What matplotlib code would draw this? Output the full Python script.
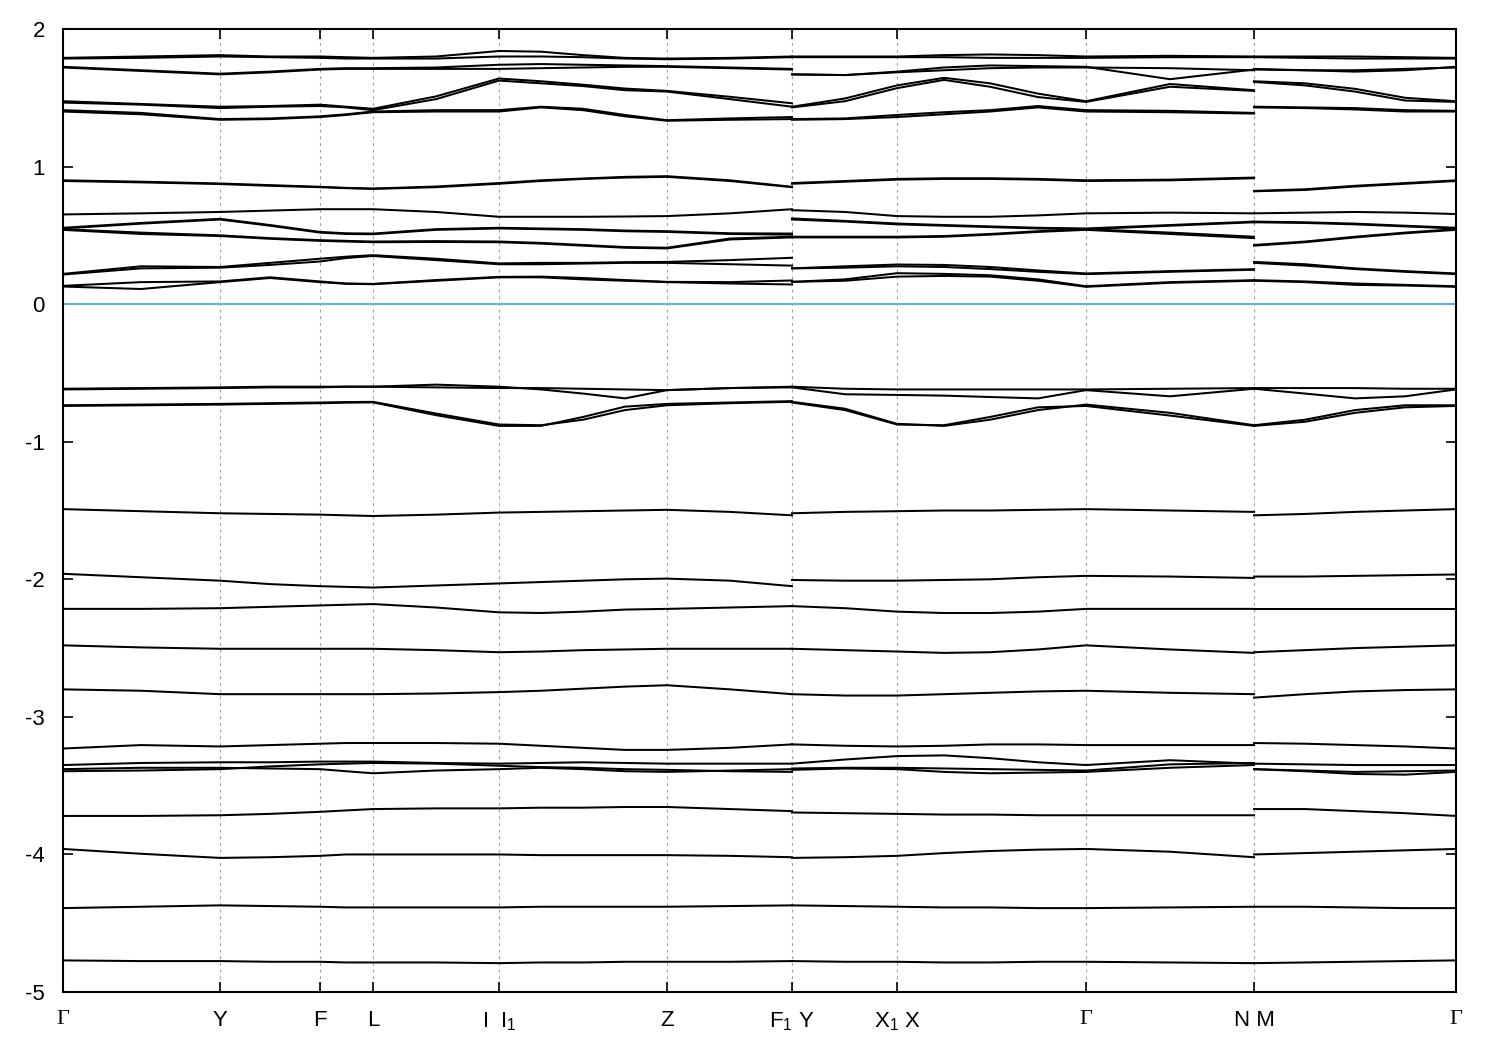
"""
能帶圖（band structure）重繪：三段 k 路徑 Γ-Y-F-L-I|I1-Z-F1 / Y-X1|X-Γ-N / M-Γ
數值是從原圖讀出來的近似值（每條帶在取樣點上的能量，單位 eV）。
"""
import matplotlib
matplotlib.use("Agg")
import matplotlib.pyplot as plt

plt.rcParams["axes.unicode_minus"] = False
plt.rcParams["font.family"] = ["Liberation Sans", "DejaVu Sans"]
plt.rcParams["mathtext.fontset"] = "custom"
plt.rcParams["mathtext.rm"] = "Liberation Sans"
plt.rcParams["mathtext.it"] = "Liberation Sans"

# k 路徑上的高對稱點（路徑長度，任意單位）
KLABELS = ["Γ", "Y", "F", "L", "I  I$_1$", "Z", "F$_1$ Y", "X$_1$ X", "Γ", "N M", "Γ"]
KTICKS = [0.0, 0.157, 0.257, 0.310, 0.436, 0.604, 0.729, 0.834, 1.023, 1.191, 1.393]

# 三段路徑的取樣點
K_SEG1 = [0.0, 0.078, 0.157, 0.207, 0.257, 0.283, 0.310, 0.373, 0.436,
          0.478, 0.520, 0.562, 0.604, 0.667, 0.729]
K_SEG2 = [0.729, 0.782, 0.834, 0.881, 0.927, 0.975, 1.023, 1.107, 1.191]
K_SEG3 = [1.191, 1.242, 1.292, 1.342, 1.393]

# 每一列是一條帶；三個表的列順序相同
E_SEG1 = [
    [1.79, 1.80, 1.81, 1.80, 1.80, 1.795, 1.79, 1.80, 1.84, 1.835, 1.81, 1.79, 1.785, 1.79, 1.80],
    [1.785, 1.79, 1.80, 1.795, 1.79, 1.785, 1.785, 1.785, 1.80, 1.80, 1.795, 1.785, 1.78, 1.785, 1.795],
    [1.725, 1.70, 1.675, 1.69, 1.71, 1.715, 1.715, 1.72, 1.74, 1.745, 1.74, 1.735, 1.73, 1.72, 1.71],
    [1.72, 1.695, 1.67, 1.685, 1.705, 1.71, 1.71, 1.71, 1.71, 1.715, 1.72, 1.725, 1.725, 1.715, 1.705],
    [1.475, 1.455, 1.435, 1.44, 1.45, 1.435, 1.42, 1.51, 1.64, 1.62, 1.595, 1.567, 1.55, 1.507, 1.46],
    [1.465, 1.45, 1.425, 1.435, 1.44, 1.43, 1.41, 1.49, 1.625, 1.605, 1.585, 1.555, 1.545, 1.49, 1.435],
    [1.41, 1.39, 1.345, 1.35, 1.365, 1.38, 1.40, 1.41, 1.41, 1.435, 1.42, 1.375, 1.337, 1.35, 1.36],
    [1.40, 1.38, 1.34, 1.345, 1.36, 1.375, 1.395, 1.40, 1.40, 1.43, 1.41, 1.365, 1.333, 1.34, 1.345],
    [0.90, 0.89, 0.877, 0.865, 0.853, 0.845, 0.84, 0.855, 0.88, 0.90, 0.913, 0.925, 0.93, 0.90, 0.853],
    [0.895, 0.885, 0.873, 0.86, 0.85, 0.843, 0.838, 0.85, 0.875, 0.895, 0.91, 0.92, 0.925, 0.895, 0.85],
    [0.652, 0.66, 0.67, 0.68, 0.69, 0.69, 0.69, 0.67, 0.635, 0.635, 0.635, 0.637, 0.64, 0.66, 0.69],
    [0.555, 0.59, 0.62, 0.575, 0.525, 0.515, 0.513, 0.545, 0.555, 0.55, 0.545, 0.535, 0.53, 0.515, 0.513],
    [0.55, 0.585, 0.615, 0.57, 0.52, 0.51, 0.508, 0.54, 0.55, 0.545, 0.54, 0.53, 0.525, 0.51, 0.505],
    [0.545, 0.52, 0.50, 0.48, 0.465, 0.46, 0.455, 0.458, 0.455, 0.445, 0.43, 0.415, 0.41, 0.477, 0.49],
    [0.54, 0.51, 0.495, 0.475, 0.46, 0.455, 0.45, 0.452, 0.45, 0.44, 0.425, 0.41, 0.405, 0.47, 0.485],
    [0.22, 0.275, 0.27, 0.30, 0.33, 0.345, 0.356, 0.33, 0.296, 0.30, 0.30, 0.305, 0.307, 0.32, 0.337],
    [0.215, 0.26, 0.265, 0.285, 0.31, 0.335, 0.35, 0.32, 0.29, 0.29, 0.295, 0.30, 0.30, 0.29, 0.28],
    [0.133, 0.16, 0.165, 0.195, 0.165, 0.15, 0.147, 0.175, 0.198, 0.20, 0.19, 0.175, 0.162, 0.16, 0.172],
    [0.128, 0.11, 0.16, 0.19, 0.16, 0.148, 0.145, 0.17, 0.195, 0.195, 0.18, 0.17, 0.16, 0.15, 0.143],
    [-0.615, -0.61, -0.605, -0.60, -0.60, -0.60, -0.60, -0.605, -0.61, -0.61, -0.615, -0.62, -0.625, -0.61, -0.60],
    [-0.62, -0.615, -0.61, -0.605, -0.605, -0.60, -0.60, -0.585, -0.60, -0.62, -0.65, -0.685, -0.625, -0.61, -0.605],
    [-0.735, -0.73, -0.725, -0.72, -0.715, -0.712, -0.71, -0.795, -0.875, -0.88, -0.84, -0.77, -0.735, -0.72, -0.71],
    [-0.74, -0.735, -0.73, -0.725, -0.72, -0.716, -0.714, -0.807, -0.885, -0.885, -0.82, -0.745, -0.725, -0.715, -0.705],
    [-1.49, -1.505, -1.52, -1.525, -1.53, -1.535, -1.54, -1.53, -1.515, -1.51, -1.505, -1.50, -1.495, -1.51, -1.535],
    [-1.96, -1.985, -2.01, -2.035, -2.05, -2.055, -2.06, -2.045, -2.03, -2.02, -2.01, -2.00, -1.995, -2.01, -2.05],
    [-2.215, -2.215, -2.21, -2.20, -2.19, -2.185, -2.18, -2.205, -2.24, -2.245, -2.235, -2.22, -2.215, -2.205, -2.195],
    [-2.48, -2.495, -2.505, -2.505, -2.505, -2.505, -2.505, -2.515, -2.53, -2.525, -2.515, -2.51, -2.505, -2.505, -2.505],
    [-2.80, -2.81, -2.835, -2.835, -2.835, -2.835, -2.835, -2.83, -2.82, -2.81, -2.795, -2.78, -2.77, -2.80, -2.835],
    [-3.23, -3.205, -3.215, -3.205, -3.195, -3.19, -3.19, -3.19, -3.195, -3.21, -3.225, -3.24, -3.24, -3.225, -3.20],
    [-3.35, -3.335, -3.33, -3.33, -3.325, -3.325, -3.325, -3.335, -3.34, -3.335, -3.33, -3.335, -3.34, -3.34, -3.34],
    [-3.38, -3.37, -3.37, -3.375, -3.38, -3.395, -3.41, -3.39, -3.38, -3.37, -3.38, -3.395, -3.40, -3.39, -3.38],
    [-3.395, -3.39, -3.38, -3.36, -3.345, -3.34, -3.335, -3.34, -3.355, -3.365, -3.37, -3.38, -3.385, -3.395, -3.40],
    [-3.72, -3.72, -3.715, -3.705, -3.69, -3.68, -3.67, -3.665, -3.665, -3.66, -3.66, -3.655, -3.655, -3.67, -3.685],
    [-3.96, -3.995, -4.025, -4.02, -4.01, -4.00, -4.00, -4.00, -4.00, -4.005, -4.005, -4.005, -4.005, -4.01, -4.02],
    [-4.39, -4.38, -4.37, -4.375, -4.38, -4.385, -4.385, -4.385, -4.385, -4.38, -4.38, -4.38, -4.38, -4.375, -4.37],
    [-4.77, -4.775, -4.775, -4.78, -4.78, -4.785, -4.785, -4.785, -4.79, -4.785, -4.785, -4.78, -4.78, -4.78, -4.775],
]

E_SEG2 = [
    [1.80, 1.80, 1.80, 1.81, 1.815, 1.81, 1.80, 1.805, 1.80],
    [1.795, 1.795, 1.795, 1.795, 1.79, 1.79, 1.79, 1.795, 1.795],
    [1.67, 1.665, 1.69, 1.72, 1.735, 1.73, 1.725, 1.635, 1.705],
    [1.67, 1.665, 1.685, 1.70, 1.715, 1.72, 1.72, 1.715, 1.70],
    [1.435, 1.495, 1.59, 1.645, 1.605, 1.53, 1.475, 1.60, 1.555],
    [1.43, 1.475, 1.57, 1.63, 1.58, 1.505, 1.47, 1.58, 1.55],
    [1.345, 1.35, 1.375, 1.395, 1.41, 1.44, 1.41, 1.405, 1.39],
    [1.34, 1.345, 1.36, 1.38, 1.40, 1.43, 1.40, 1.395, 1.385],
    [0.88, 0.895, 0.91, 0.915, 0.915, 0.91, 0.90, 0.905, 0.92],
    [0.875, 0.89, 0.905, 0.91, 0.91, 0.905, 0.895, 0.90, 0.915],
    [0.683, 0.67, 0.64, 0.635, 0.635, 0.645, 0.66, 0.665, 0.66],
    [0.623, 0.605, 0.586, 0.575, 0.565, 0.555, 0.55, 0.575, 0.60],
    [0.615, 0.60, 0.58, 0.57, 0.56, 0.55, 0.545, 0.57, 0.595],
    [0.49, 0.49, 0.49, 0.495, 0.51, 0.53, 0.545, 0.52, 0.49],
    [0.485, 0.485, 0.485, 0.49, 0.505, 0.525, 0.54, 0.51, 0.48],
    [0.26, 0.275, 0.288, 0.285, 0.27, 0.245, 0.223, 0.24, 0.254],
    [0.26, 0.265, 0.275, 0.27, 0.255, 0.235, 0.218, 0.235, 0.25],
    [0.162, 0.18, 0.225, 0.22, 0.21, 0.18, 0.13, 0.16, 0.174],
    [0.162, 0.17, 0.20, 0.205, 0.20, 0.17, 0.126, 0.155, 0.17],
    [-0.60, -0.615, -0.62, -0.62, -0.62, -0.62, -0.62, -0.615, -0.61],
    [-0.605, -0.655, -0.66, -0.665, -0.675, -0.685, -0.625, -0.67, -0.615],
    [-0.71, -0.76, -0.87, -0.885, -0.84, -0.77, -0.73, -0.79, -0.88],
    [-0.715, -0.77, -0.875, -0.88, -0.82, -0.75, -0.74, -0.81, -0.885],
    [-1.52, -1.51, -1.505, -1.50, -1.50, -1.495, -1.49, -1.50, -1.51],
    [-2.005, -2.01, -2.01, -2.005, -2.0, -1.985, -1.975, -1.98, -1.99],
    [-2.195, -2.21, -2.235, -2.245, -2.245, -2.235, -2.215, -2.215, -2.215],
    [-2.505, -2.515, -2.525, -2.535, -2.53, -2.51, -2.48, -2.51, -2.535],
    [-2.835, -2.845, -2.845, -2.835, -2.825, -2.815, -2.81, -2.825, -2.835],
    [-3.20, -3.21, -3.215, -3.21, -3.20, -3.20, -3.205, -3.205, -3.205],
    [-3.34, -3.31, -3.285, -3.28, -3.30, -3.33, -3.35, -3.315, -3.34],
    [-3.385, -3.375, -3.38, -3.40, -3.41, -3.405, -3.40, -3.37, -3.35],
    [-3.375, -3.37, -3.37, -3.375, -3.38, -3.385, -3.39, -3.345, -3.335],
    [-3.695, -3.70, -3.705, -3.71, -3.71, -3.715, -3.715, -3.715, -3.715],
    [-4.025, -4.02, -4.01, -3.99, -3.975, -3.965, -3.96, -3.98, -4.02],
    [-4.37, -4.375, -4.38, -4.385, -4.385, -4.39, -4.39, -4.385, -4.38],
    [-4.775, -4.78, -4.78, -4.785, -4.785, -4.78, -4.78, -4.785, -4.79],
]

E_SEG3 = [
    [1.80, 1.80, 1.80, 1.795, 1.79],
    [1.795, 1.79, 1.785, 1.785, 1.785],
    [1.71, 1.70, 1.69, 1.70, 1.725],
    [1.705, 1.70, 1.70, 1.71, 1.72],
    [1.62, 1.605, 1.565, 1.50, 1.475],
    [1.615, 1.59, 1.545, 1.48, 1.47],
    [1.435, 1.43, 1.425, 1.41, 1.405],
    [1.43, 1.425, 1.415, 1.40, 1.40],
    [0.823, 0.835, 0.86, 0.88, 0.90],
    [0.82, 0.83, 0.855, 0.875, 0.895],
    [0.66, 0.665, 0.67, 0.665, 0.655],
    [0.60, 0.595, 0.585, 0.57, 0.555],
    [0.595, 0.59, 0.58, 0.565, 0.55],
    [0.43, 0.455, 0.49, 0.52, 0.545],
    [0.425, 0.45, 0.485, 0.515, 0.54],
    [0.307, 0.29, 0.26, 0.24, 0.223],
    [0.30, 0.28, 0.255, 0.235, 0.218],
    [0.174, 0.165, 0.15, 0.14, 0.13],
    [0.17, 0.16, 0.14, 0.135, 0.126],
    [-0.61, -0.61, -0.61, -0.615, -0.615],
    [-0.615, -0.65, -0.685, -0.67, -0.62],
    [-0.88, -0.84, -0.77, -0.735, -0.735],
    [-0.885, -0.855, -0.79, -0.75, -0.74],
    [-1.535, -1.525, -1.51, -1.50, -1.49],
    [-1.98, -1.98, -1.975, -1.97, -1.965],
    [-2.215, -2.215, -2.215, -2.215, -2.215],
    [-2.53, -2.515, -2.50, -2.49, -2.48],
    [-2.86, -2.835, -2.815, -2.805, -2.80],
    [-3.19, -3.195, -3.205, -3.215, -3.23],
    [-3.34, -3.345, -3.35, -3.35, -3.35],
    [-3.38, -3.395, -3.415, -3.42, -3.40],
    [-3.38, -3.39, -3.40, -3.395, -3.39],
    [-3.67, -3.67, -3.685, -3.70, -3.72],
    [-4.00, -3.99, -3.98, -3.97, -3.96],
    [-4.38, -4.38, -4.385, -4.39, -4.39],
    [-4.79, -4.785, -4.78, -4.775, -4.77],
]

EF = 0.0


def main():
    fig = plt.figure(figsize=(15, 10.5), dpi=100)
    ax = fig.add_axes([0.042, 0.0552, 0.9287, 0.9172])

    # 高對稱點的虛線
    for k in KTICKS[1:-1]:
        ax.axvline(k, color="#a0a0a0", lw=0.8, ls=(0, (2.5, 3.5)), zorder=1)
    ax.axhline(EF, color="#56b4e9", lw=1.4, zorder=2)

    for ks, table in ((K_SEG1, E_SEG1), (K_SEG2, E_SEG2), (K_SEG3, E_SEG3)):
        for band in table:
            ax.plot(ks, band, color="black", lw=1.45, zorder=3)

    ax.set_xlim(KTICKS[0], KTICKS[-1])
    ax.set_ylim(-5, 2)
    ax.set_yticks(range(-5, 3))
    ax.set_xticks(KTICKS)
    ax.set_xticklabels(KLABELS)
    for lbl in ax.get_xticklabels():
        if lbl.get_text() == "Γ":
            lbl.set_fontfamily(["Liberation Serif", "DejaVu Serif"])
    ax.tick_params(axis="both", direction="in", length=7, width=1.2,
                   labelsize=16, top=True, right=True)
    ax.tick_params(axis="x", pad=13)
    ax.tick_params(axis="y", pad=13)
    for sp in ax.spines.values():
        sp.set_linewidth(1.5)

    fig.savefig("out.png", dpi=100)
    plt.close(fig)


if __name__ == "__main__":
    main()
